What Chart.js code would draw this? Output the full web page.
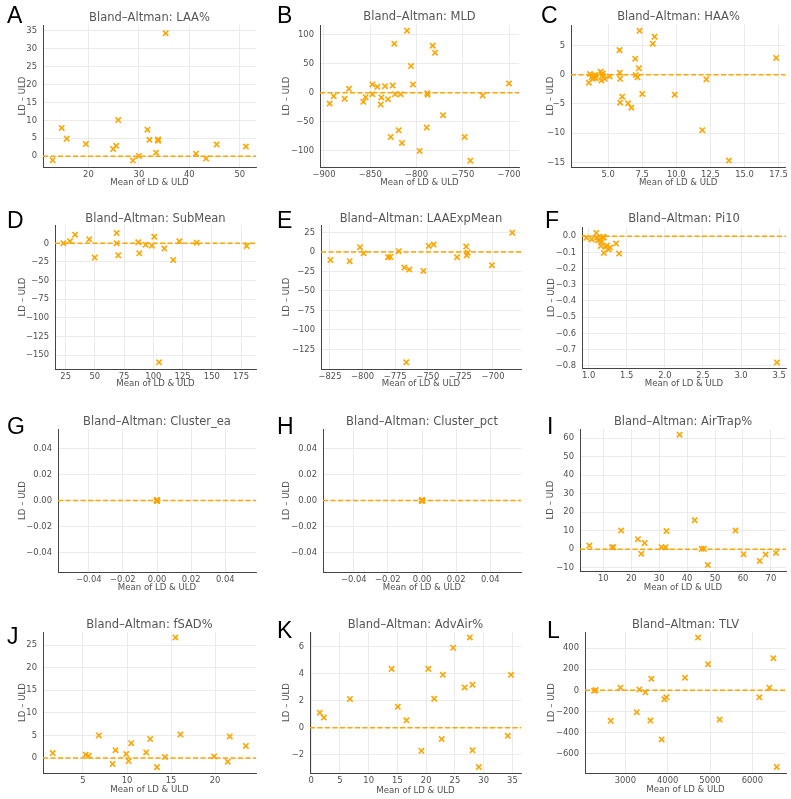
<!DOCTYPE html>
<html><head><meta charset="utf-8">
<script src="https://cdn.jsdelivr.net/npm/chart.js@4/dist/chart.umd.min.js"></script>
<style>
body{margin:0;background:#fff;width:791px;height:799px;position:relative;overflow:hidden}
canvas{position:absolute}
.t{position:absolute;font-family:"DejaVu Sans";font-size:11.5px;color:#555;text-align:center;white-space:nowrap;line-height:14px}
.l{position:absolute;font-family:"Liberation Sans";font-size:23px;color:#000;line-height:23px}
</style></head><body>
<script>
// ---- data ----
const laaX = [12.9,14.7,15.7,19.5,24.9,25.5,25.9,28.8,30.0,31.7,32.1,33.4,33.8,33.8,35.3,41.3,43.3,45.4,51.2];
const laaY = [-1.1,7.9,4.9,3.4,2.0,2.9,10.1,-1.2,0.1,7.4,4.6,1.0,4.7,4.3,34.3,0.7,-0.6,3.3,2.7];
const laaXTicks = [20,30,40,50];
const laaYTicks = [0,5,10,15,20,25,30,35];

const mldX = [-893.9,-889.5,-877.7,-873,-857.5,-855,-847.7,-847.7,-842.3,-838.7,-838,-834,-830.8,-827.9,-825.8,-824,-823.2,-819.3,-817.1,-815.7,-810.3,-806,-803.8,-796.6,-789,-788.3,-788,-782.5,-780,-771.3,-747.9,-741.8,-728.5,-700];
const mldY = [-18.4,-5.7,-10.3,6.9,-15.5,-7.5,14.4,-2.3,10.3,-20.1,-8,11.5,-10.9,-75.9,12.6,84.5,-2.3,-64.4,-2.3,-86.2,106.9,46,14.4,-100,-59.8,-0.6,-3.4,81,69,-38.5,-75.9,-116.7,-4.6,16.1];
const mldXTicks = [-900,-850,-800,-750,-700];
const mldYTicks = [-100,-50,0,50,100];

const haaX = [3.58,3.66,3.78,3.85,3.9,3.97,4.02,4.1,4.44,4.5,4.58,4.6,4.75,5.1,5.83,5.85,5.88,5.88,6.03,6.46,6.7,6.98,7.03,7.15,7.25,7.3,7.5,8.27,8.4,9.88,11.9,12.2,13.86,17.33];
const haaY = [-1.37,0.1,-0.46,-0.2,-0.7,-0.46,-0.06,-0.6,0.5,-1.0,0.2,-0.2,-0.7,-0.3,4.2,0.34,-0.7,-4.8,-3.77,-4.9,-5.66,2.74,-0.06,-0.46,1.09,7.5,-3.3,5.3,6.5,-3.43,-9.5,-0.8,-14.7,2.86];
const haaXTicks = [5,7.5,10,12.5,15,17.5];
const haaYTicks = [-15,-10,-5,0,5];

const subX = [23,28.7,33,45.2,49.8,68.6,68.6,70,87.1,88,93.4,98.8,100.8,104.8,109.4,117,122.2,137,179.8];
const subY = [0,2.7,11.6,5.4,-19.2,13.8,0,-16.1,1.3,-13.4,-1.8,-3.1,8.9,-159.8,-7.1,-22.3,2.7,0.9,-3.6];
const subXTicks = [25,50,75,100,125,150,175];
const subYTicks = [-150,-125,-100,-75,-50,-25,0];

const expX = [-824.7,-809.9,-802,-799.2,-780.5,-778.7,-772.3,-768,-766.5,-764.2,-753.4,-749.3,-745.5,-727.6,-720.5,-720.2,-719.4,-700.8,-685.2];
const expY = [-10.2,-11.9,6,-1.7,-6.8,-6.4,0.9,-20,-141.4,-22.6,-24.3,7.7,9.4,-6.8,6.8,-4.3,-0.9,-17,24.7];
const expXTicks = [-825,-800,-775,-750,-725,-700];
const expYTicks = [-125,-100,-75,-50,-25,0,25];

const pi10X = [0.97,1.04,1.1,1.11,1.12,1.14,1.16,1.17,1.19,1.2,1.2,1.22,1.24,1.26,1.28,1.36,1.4,3.47];
const pi10Y = [-0.01,-0.02,0.02,-0.008,-0.025,-0.02,-0.06,-0.037,-0.004,-0.103,-0.008,-0.066,-0.057,-0.082,-0.07,-0.045,-0.107,-0.78];
const pi10XTicks = [1,1.5,2,2.5,3,3.5];
const pi10YTicks = [-0.8,-0.7,-0.6,-0.5,-0.4,-0.3,-0.2,-0.1,0];

const ceaX = [0,0,0,0,0,0,0,0,0,0];
const ceaY = [0,0,0,0,0,0,0,0,0,0];
const cpctX = [0,0,0,0,0,0,0,0,0,0];
const cpctY = [0,0,0,0,0,0,0,0,0,0];
const clusterTicks = [-0.04,-0.02,0,0.02,0.04];

const airX = [5,13.1,13.6,16.4,22.4,23.6,24.8,30.8,32.3,32.6,37.3,42.7,45.2,46,47.4,57.3,60.2,66,68.1,71.8];
const airY = [2,1.1,1.1,10.1,5.4,-2.5,3.4,1.1,1.1,9.8,61.8,15.7,0.2,0.2,-8.5,10.1,-2.7,-6.3,-2.9,-2.0];
const airXTicks = [10,20,30,40,50,60,70];
const airYTicks = [-10,0,10,20,30,40,50,60];

const fsadX = [1.56,5.3,5.64,6.8,8.36,8.7,9.91,10.18,10.48,12.18,12.63,13.4,14.3,15.5,16.07,19.9,21.44,21.67,23.5];
const fsadY = [1.1,0.74,0.5,5,-1.3,1.76,0.88,-0.66,3.3,1.25,4.2,-2,0.22,26.7,5.2,0.37,-0.8,4.8,2.7];
const fsadXTicks = [5,10,15,20];
const fsadYTicks = [0,5,10,15,20,25];

const advX = [1.5,2.2,6.75,14,15.07,16.57,19.17,20.38,21.4,22.7,22.9,24.7,26.7,27.6,28.06,28.06,29.16,34.2,34.76];
const advY = [1.12,0.76,2.13,4.35,1.56,0.56,-1.69,4.35,2.15,-0.83,3.91,5.9,2.98,6.67,3.18,-1.66,-2.89,-0.59,3.91];
const advXTicks = [0,5,10,15,20,25,30,35];
const advYTicks = [-2,0,2,4,6];

const tlvX = [2260,2299,2654,2882,3268,3331,3472,3591,3614,3858,3921,3969,4409,4717,4953,5228,6165,6402,6496,6575];
const tlvY = [-3,3,-289,25,-207,9,-19,-286,110,-465,-85,-66,120,500,248,-277,-66,25,305,-726];
const tlvXTicks = [3000,4000,5000,6000];
const tlvYTicks = [-600,-400,-200,0,200,400];

// ---- panels (layout) ----
const panels = [
 {L:'A',T:'Bland–Altman: LAA%',xs:laaX,ys:laaY,xr:[11.0,53.2],yr:[-3.0,36.6],xt:laaXTicks,yt:laaYTicks,xd:0,yd:0,cell:[0,0,263,200],plot:[43,25,256,167],ytx:23,xty:183,ty:16.5,lp:[7,7]},
 {L:'B',T:'Bland–Altman: MLD',xs:mldX,ys:mldY,xr:[-904.3,-689.2],yr:[-127.6,116.7],xt:mldXTicks,yt:mldYTicks,xd:0,yd:0,cell:[263,0,264,200],plot:[320,25,519,167],ytx:287,xty:183,ty:16,lp:[277,7]},
 {L:'C',T:'Bland–Altman: HAA%',xs:haaX,ys:haaY,xr:[2.27,18.0],yr:[-15.8,8.5],xt:haaXTicks,yt:haaYTicks,xd:1,yd:0,cell:[527,0,264,200],plot:[571,25,786,167],ytx:551,xty:183,ty:16,lp:[541,7]},
 {L:'D',T:'Bland–Altman: SubMean',xs:subX,ys:subY,xr:[15.9,187.8],yr:[-168.75,24.6],xt:subXTicks,yt:subYTicks,xd:0,yd:0,cell:[0,200,263,200],plot:[55,225,256,369],ytx:23,xty:384,ty:218,lp:[7,212]},
 {L:'E',T:'Bland–Altman: LAAExpMean',xs:expX,ys:expY,xr:[-831.9,-678.5],yr:[-150,34.5],xt:expXTicks,yt:expYTicks,xd:0,yd:0,cell:[263,200,264,200],plot:[321,225,521,369],ytx:287,xty:384,ty:218,lp:[277,212]},
 {L:'F',T:'Bland–Altman: Pi10',xs:pi10X,ys:pi10Y,xr:[0.913,3.59],yr:[-0.814,0.057],xt:pi10XTicks,yt:pi10YTicks,xd:1,yd:1,cell:[527,200,264,200],plot:[582,227,786,368],ytx:552,xty:384,ty:218,lp:[545,212]},
 {L:'G',T:'Bland–Altman: Cluster_ea',xs:ceaX,ys:ceaY,xr:[-0.058,0.058],yr:[-0.055,0.055],xt:clusterTicks,yt:clusterTicks,xd:2,yd:2,cell:[0,400,263,200],plot:[58,429,256,572],ytx:23,xty:588,ty:421,lp:[7,418]},
 {L:'H',T:'Bland–Altman: Cluster_pct',xs:cpctX,ys:cpctY,xr:[-0.058,0.058],yr:[-0.055,0.055],xt:clusterTicks,yt:clusterTicks,xd:2,yd:2,cell:[263,400,264,200],plot:[323,429,521,572],ytx:287,xty:588,ty:421,lp:[277,418]},
 {L:'I',T:'Bland–Altman: AirTrap%',xs:airX,ys:airY,xr:[1.65,75.4],yr:[-11.75,64.9],xt:airXTicks,yt:airYTicks,xd:0,yd:0,cell:[527,400,264,200],plot:[580,429,786,571],ytx:551,xty:588,ty:421,lp:[547,418]},
 {L:'J',T:'Bland–Altman: fSAD%',xs:fsadX,ys:fsadY,xr:[0.46,24.65],yr:[-3.3,27.9],xt:fsadXTicks,yt:fsadYTicks,xd:0,yd:0,cell:[0,600,263,199],plot:[43,632,256,773],ytx:23,xty:790,ty:624,lp:[7,628]},
 {L:'K',T:'Bland–Altman: AdvAir%',xs:advX,ys:advY,xr:[-0.2,36.5],yr:[-3.33,7.07],xt:advXTicks,yt:advYTicks,xd:0,yd:0,cell:[263,600,264,199],plot:[310,632,521,773],ytx:287,xty:791,ty:624,lp:[277,622]},
 {L:'L',T:'Bland–Altman: TLV',xs:tlvX,ys:tlvY,xr:[2047,6795],yr:[-783,553],xt:tlvXTicks,yt:tlvYTicks,xd:0,yd:0,cell:[527,600,264,199],plot:[585,632,786,773],ytx:552,xty:790,ty:624,lp:[547,622]}
];

const ORANGE = '#FFA500';
const TXT = '#4f4f4f';
const tickFont = {family:'DejaVu Sans', size:8.4};
const labFont = {family:'DejaVu Sans', size:8.6, lineHeight:1.2};
const LH = 8.6*1.2;

function fmt(v,d){ const s = Math.abs(v).toFixed(d); return (v < -1e-9 ? '\u2212' : '') + s; }

const zeroLine = {
  id:'zeroLine',
  afterDatasetsDraw(chart){
    const {ctx, chartArea:a, scales:{y}} = chart;
    const py = y.getPixelForValue(0);
    ctx.save();
    ctx.strokeStyle = ORANGE; ctx.lineWidth = 1.5; ctx.setLineDash([5,2.5]);
    ctx.beginPath(); ctx.moveTo(a.left, py); ctx.lineTo(a.right, py); ctx.stroke();
    ctx.restore();
  }
};

panels.forEach(p => {
  const [cx, cy, cw, ch] = p.cell;
  const [pl, pt, pr, pb] = p.plot;
  const cv = document.createElement('canvas');
  cv.width = cw; cv.height = ch;
  cv.style.left = cx + 'px'; cv.style.top = cy + 'px';
  cv.style.width = cw + 'px'; cv.style.height = ch + 'px';
  document.body.appendChild(cv);

  const t = document.createElement('div');
  t.className = 't'; t.textContent = p.T;
  t.style.left = pl + 'px'; t.style.width = (pr - pl) + 'px';
  t.style.top = (p.ty - 7) + 'px';
  document.body.appendChild(t);

  const l = document.createElement('div');
  l.className = 'l'; l.textContent = p.L;
  l.style.left = p.lp[0] + 'px'; l.style.top = (p.lp[1] - 3) + 'px';
  document.body.appendChild(l);

  new Chart(cv.getContext('2d'), {
    type:'scatter',
    data:{datasets:[{
      data: p.xs.map((x,i) => ({x:x, y:p.ys[i]})),
      pointStyle:'crossRot', pointRadius:3.8, pointBorderWidth:1.6,
      borderColor:ORANGE, backgroundColor:ORANGE, pointHoverRadius:3.8
    }]},
    options:{
      responsive:false, animation:false, devicePixelRatio:1,
      events:[],
      layout:{autoPadding:false, padding:{top: pt - cy, right: (cx + cw) - pr, left:0, bottom:0}},
      plugins:{legend:{display:false}, tooltip:{enabled:false}},
      scales:{
        x:{
          type:'linear', position:'bottom', min:p.xr[0], max:p.xr[1],
          afterBuildTicks: s => { s.ticks = p.xt.map(v => ({value:v})); },
          afterFit: s => { s.height = (cy + ch) - pb; },
          grid:{color:'#e6e6e6', lineWidth:0.8, drawTicks:false},
          border:{color:'#444', width:1},
          ticks:{font:tickFont, color:TXT, padding:3, autoSkip:false, maxRotation:0, callback: v => fmt(v, p.xd)},
          title:{display:true, text:'Mean of LD & ULD', font:labFont, color:TXT, padding:{top:0, bottom: (cy + ch) - p.xty - LH/2}}
        },
        y:{
          type:'linear', position:'left', min:p.yr[0], max:p.yr[1],
          afterBuildTicks: s => { s.ticks = p.yt.map(v => ({value:v})); },
          afterFit: s => { s.width = pl - cx; },
          grid:{color:'#e6e6e6', lineWidth:0.8, drawTicks:false},
          border:{color:'#444', width:1},
          ticks:{font:tickFont, color:TXT, padding:6, autoSkip:false, callback: v => fmt(v, p.yd)},
          title:{display:true, text:'LD \u2013 ULD', font:labFont, color:TXT, padding:{top: (p.ytx - cx) - LH/2, bottom:0}}
        }
      }
    },
    plugins:[zeroLine]
  });
});
</script>
</body></html>
